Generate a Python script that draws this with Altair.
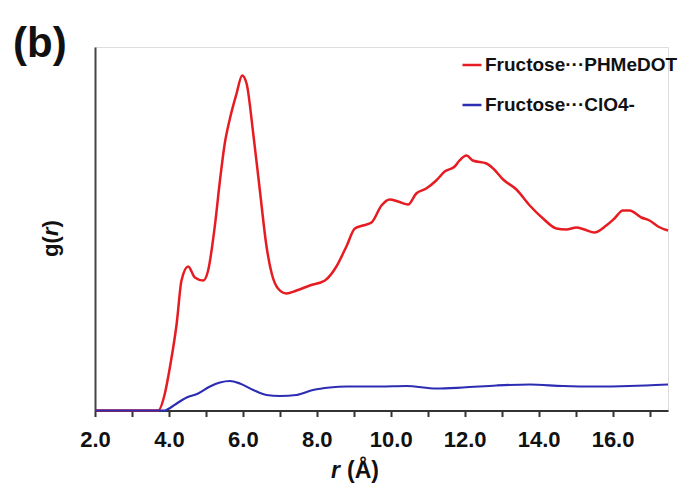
import altair as alt
import pandas as pd

FONT = "Liberation Sans"

series_names = ["Fructose\u00b7\u00b7\u00b7PHMeDOT", "Fructose\u00b7\u00b7\u00b7ClO4-"]
series_colors = ["#e61c22", "#2d2db4"]

r_red = [2.0, 3.0, 3.71, 3.89, 4.03, 4.21, 4.34, 4.52, 4.70, 4.93, 5.06, 5.24, 5.38, 5.51, 5.65,
         5.83, 5.98, 6.10, 6.28, 6.46, 6.64, 6.78, 6.95, 7.18, 7.45, 7.81, 8.22, 8.53, 8.80, 9.03,
         9.25, 9.48, 9.75, 9.97, 10.20, 10.47, 10.69, 10.96, 11.23, 11.46, 11.73, 11.86, 12.05,
         12.22, 12.59, 12.77, 13.04, 13.40, 13.76, 14.12, 14.48, 14.75, 15.02, 15.24, 15.51, 15.83,
         16.05, 16.28, 16.46, 16.78, 17.00, 17.23, 17.50]
g_red = [0, 0, 0, 0.17, 0.44, 0.87, 1.30, 1.44, 1.33, 1.30, 1.40, 1.84, 2.30, 2.67, 2.92,
         3.17, 3.35, 3.27, 2.77, 2.20, 1.64, 1.37, 1.22, 1.17, 1.20, 1.25, 1.30, 1.44, 1.64, 1.82,
         1.85, 1.88, 2.05, 2.11, 2.09, 2.06, 2.17, 2.22, 2.30, 2.39, 2.44, 2.50, 2.55,
         2.50, 2.47, 2.42, 2.31, 2.21, 2.05, 1.92, 1.82, 1.81, 1.83, 1.81, 1.78, 1.85,
         1.92, 2.00, 2.00, 1.93, 1.90, 1.84, 1.80]

r_blue = [2.0, 3.0, 3.89, 4.05, 4.21, 4.48, 4.79, 5.11, 5.38, 5.65, 5.92, 6.28, 6.64, 7.0, 7.45,
          7.9, 8.35, 8.8, 9.25, 9.7, 10.42, 11.23, 11.95, 12.86, 13.76, 14.66, 15.56, 16.46, 17.5]
g_blue = [0, 0, 0, 0.03, 0.07, 0.13, 0.17, 0.24, 0.28, 0.295, 0.27, 0.205, 0.155, 0.145, 0.155,
          0.205, 0.23, 0.24, 0.24, 0.24, 0.245, 0.22, 0.23, 0.25, 0.26, 0.245, 0.24, 0.245, 0.26]

x_ticks = list(range(2, 18))

red_df = pd.DataFrame({"r": r_red, "g": g_red, "series": series_names[0]})
blue_df = pd.DataFrame({"r": r_blue, "g": g_blue, "series": series_names[1]})

x_enc = alt.X("r:Q", scale=alt.Scale(domain=[2, 17.5], nice=False, zero=False),
              axis=alt.Axis(values=x_ticks, title=None,
                            labelExpr="datum.value % 2 == 0 ? format(datum.value, '.1f') : ''",
                            labelFont=FONT, labelFontSize=22, labelFontWeight="bold",
                            labelColor="#111111", labelPadding=13, labelFlush=False,
                            tickSize=6, tickWidth=2, tickColor="#333333",
                            domainColor="#333333", domainWidth=2, grid=False))
y_enc = alt.Y("g:Q", scale=alt.Scale(domain=[0, 3.635], nice=False),
              axis=alt.Axis(title=None, labels=False, ticks=False, grid=False,
                            domainColor="#444444", domainWidth=2))
color_enc = alt.Color("series:N",
                      scale=alt.Scale(domain=series_names, range=series_colors),
                      legend=alt.Legend(title=None, orient="none", legendX=366, legendY=7,
                                        symbolType="stroke", symbolSize=361,
                                        symbolStrokeWidth=2.5, labelFont=FONT,
                                        labelFontSize=19, labelFontWeight="bold",
                                        labelColor="#111111", labelOffset=2,
                                        rowPadding=19, padding=0, labelLimit=400))

red = alt.Chart(red_df).mark_line(strokeWidth=2.5, interpolate="monotone").encode(
    x=x_enc, y=y_enc, color=color_enc)
blue = alt.Chart(blue_df).mark_line(strokeWidth=2.2, interpolate="monotone").encode(
    x=x_enc, y=y_enc, color=color_enc)

one = pd.DataFrame({"a": [0]})

def label(text, x, y, size, align="left", angle=0, style="normal", baseline="alphabetic"):
    return alt.Chart(one).mark_text(text=text, font=FONT, fontSize=size, fontWeight="bold",
                                    fontStyle=style, align=align, angle=angle,
                                    baseline=baseline, color="#111111").encode(
        x=alt.value(x), y=alt.value(y))

panel = label("(b)", -82, 10, 42)
xt1 = label("r", 245, 431, 23, align="right", style="italic")
xt2 = label("(\u00c5)", 252, 431, 23)
yt1 = label("g(", -44, 210, 22, angle=270, baseline="middle")
yt2 = label("r", -44, 189, 22, angle=270, baseline="middle", style="italic")
yt3 = label(")", -44, 180.5, 22, angle=270, baseline="middle")

chart = alt.layer(red, blue, panel, xt1, xt2, yt1, yt2, yt3).properties(
    width=573, height=363.5,
    autosize=alt.AutoSizeParams(type="none"),
    padding={"left": 87, "top": 39, "right": 18, "bottom": 72},
).configure_view(stroke=None).configure(background="white")

chart.save("out.html", embed_options={"renderer": "svg", "actions": False})
